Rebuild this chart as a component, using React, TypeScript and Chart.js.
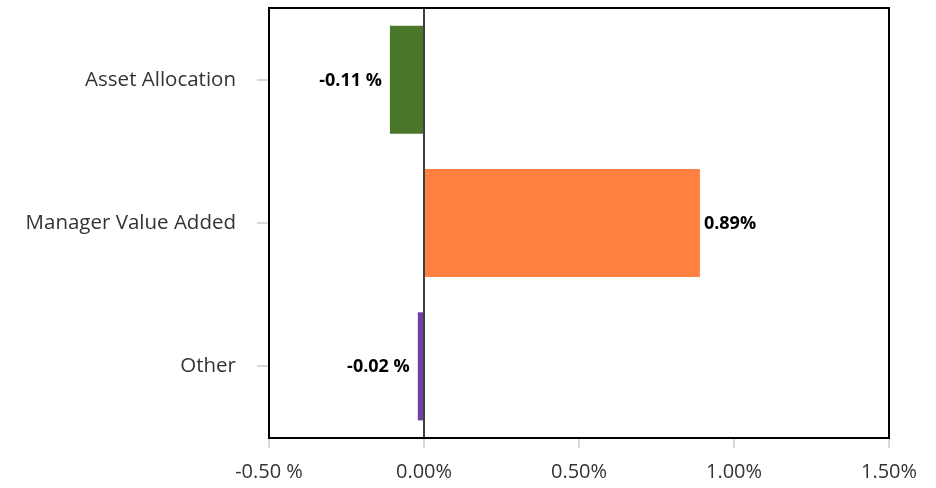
import React, { useEffect, useRef } from "react";
import { Chart, registerables } from "chart.js";

Chart.register(...registerables);

const categories = ["Asset Allocation", "Manager Value Added", "Other"];
const values = [-0.11, 0.89, -0.02];
const barColors = ["#4a7729", "#ff8040", "#7040a0"];
const xMin = -0.5;
const xMax = 1.5;
const xStep = 0.5;

function fmt(v: number): string {
  const r = Math.round(v * 100) / 100;
  if (r < 0) return r.toFixed(2) + " %";
  return Math.abs(r).toFixed(2) + "%";
}

const FONT = "'Open Sans', 'DejaVu Sans', sans-serif";

export default function App() {
  const ref = useRef<HTMLCanvasElement | null>(null);

  useEffect(() => {
    document.body.style.margin = "0";
    const canvas = ref.current;
    if (!canvas) return;

    const framePlugin = {
      id: "frameAndZero",
      afterDatasetsDraw(chart: any) {
        const { ctx, chartArea, scales } = chart;
        ctx.save();
        ctx.strokeStyle = "#000";
        const x0 = scales.x.getPixelForValue(0);
        ctx.lineWidth = 1.5;
        ctx.beginPath();
        ctx.moveTo(x0, chartArea.top);
        ctx.lineTo(x0, chartArea.bottom);
        ctx.stroke();
        ctx.lineWidth = 2;
        ctx.beginPath();
        ctx.moveTo(chartArea.left - 1, chartArea.top);
        ctx.lineTo(chartArea.right, chartArea.top);
        ctx.lineTo(chartArea.right, chartArea.bottom + 1);
        ctx.stroke();
        ctx.restore();
      },
    };

    const labelPlugin = {
      id: "barLabels",
      afterDatasetsDraw(chart: any) {
        const { ctx } = chart;
        const meta = chart.getDatasetMeta(0);
        ctx.save();
        ctx.font = `bold 18px ${FONT}`;
        ctx.fillStyle = "#000";
        ctx.textBaseline = "middle";
        meta.data.forEach((bar: any, i: number) => {
          const v = values[i];
          const { x, y } = bar.getProps(["x", "y"], true);
          if (v < 0) {
            ctx.textAlign = "right";
            ctx.fillText(fmt(v), x - 8, y + 1);
          } else {
            ctx.textAlign = "left";
            ctx.fillText(fmt(v), x + 4, y + 1);
          }
        });
        ctx.restore();
      },
    };

    const chart = new Chart(canvas, {
      type: "bar",
      data: {
        labels: categories,
        datasets: [
          {
            data: values,
            backgroundColor: barColors,
            borderWidth: 0,
            categoryPercentage: 1,
            barPercentage: 0.754,
          },
        ],
      },
      options: {
        indexAxis: "y",
        responsive: false,
        animation: false,
        layout: { padding: { top: 8, right: 47, left: 0, bottom: 0 } },
        plugins: {
          legend: { display: false },
          tooltip: { enabled: false },
        },
        scales: {
          x: {
            type: "linear",
            min: xMin,
            max: xMax,
            ticks: {
              stepSize: xStep,
              callback: (v: any) => fmt(Number(v)),
              font: { family: FONT, size: 20, weight: 400 },
              color: "#333",
              padding: 12,
              maxRotation: 0,
            },
            grid: {
              drawOnChartArea: false,
              tickLength: 10,
              color: "#d9d9d9",
              lineWidth: 2,
            },
            border: { color: "#000", width: 2 },
            afterFit: (s: any) => {
              s.height = 50;
            },
          },
          y: {
            ticks: {
              font: { family: FONT, size: 20.5, weight: 400 },
              color: "#333",
              padding: 21,
            },
            grid: {
              drawOnChartArea: false,
              offset: false,
              tickLength: 12,
              color: "#d9d9d9",
              lineWidth: 2,
            },
            border: { color: "#000", width: 2 },
            afterFit: (s: any) => {
              s.width = 269;
              s.paddingTop = 0;
              s.paddingBottom = 0;
            },
          },
        },
      },
      plugins: [framePlugin, labelPlugin],
    } as any);

    return () => {
      chart.destroy();
    };
  }, []);

  return (
    <div style={{ position: "absolute", left: 0, top: 0, width: 936, height: 488, background: "#fff" }}>
      <canvas ref={ref} width={936} height={488} />
    </div>
  );
}
